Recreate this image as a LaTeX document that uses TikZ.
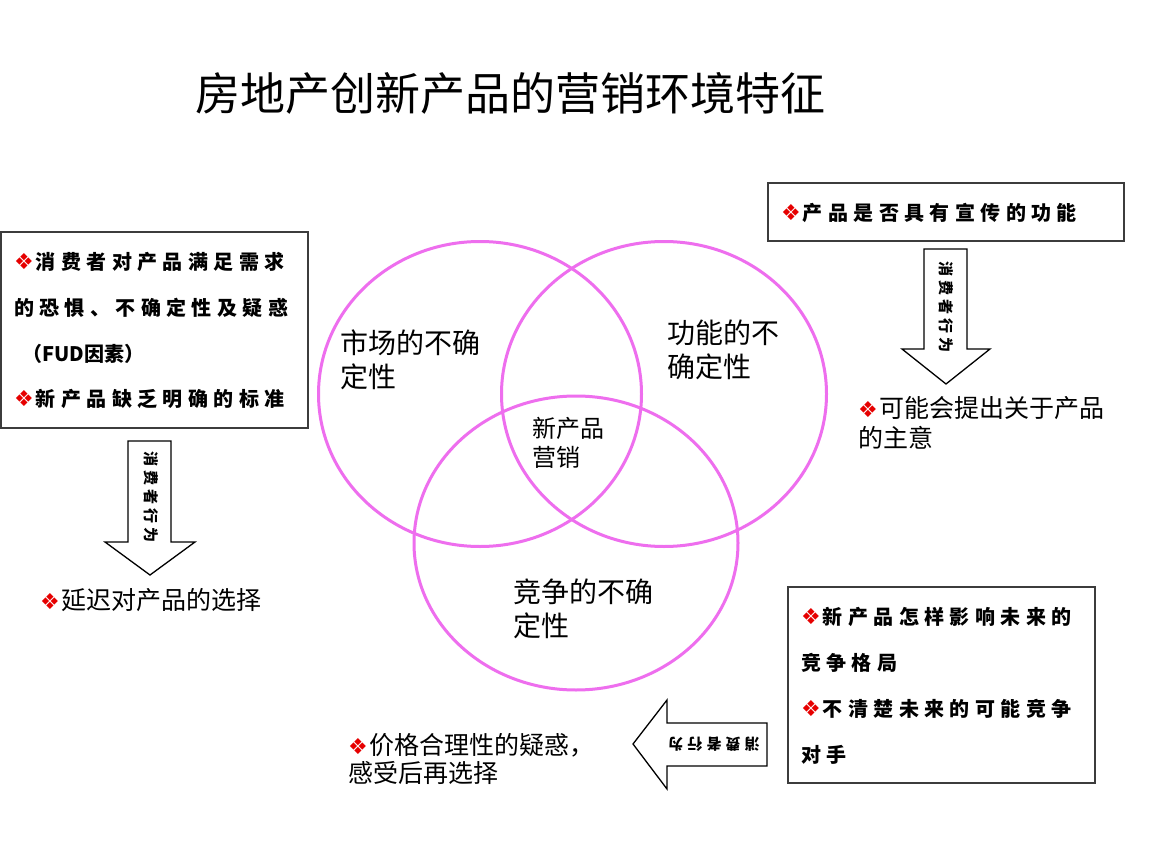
\documentclass[tikz,border=0pt]{standalone}
\usepackage{fontspec}
\setmainfont{Noto Sans CJK SC}
\newfontfamily\dv{DejaVu Sans}
\newfontfamily\cjk{Noto Sans CJK SC}
\newfontfamily\cjksp[LetterSpace=27]{Noto Sans CJK SC}
\usetikzlibrary{shapes.geometric}
\definecolor{venn}{RGB}{238,110,238}
\definecolor{bullred}{RGB}{230,0,0}
\definecolor{boxline}{RGB}{60,60,60}
\newcommand{\bul}{{\dv\mdseries\color{bullred}\fontsize{22}{22}\selectfont ❖}\hspace{2pt}}
\tikzset{
  venncircle/.style={ellipse, draw=venn, line width=3pt, inner sep=0pt},
  infobox/.style={draw=boxline, line width=2pt, fill=white, inner sep=0pt},
  boxtext/.style={anchor=west, inner sep=0pt, font=\cjksp\bfseries\fontsize{20}{20}\selectfont},
  plaintext/.style={anchor=west, inner sep=0pt, font=\cjk\fontsize{25}{25}\selectfont},
  circtext/.style={anchor=west, inner sep=0pt, font=\cjk\fontsize{28}{28}\selectfont},
  arrowshape/.style={draw=black, line width=1.3pt, fill=white},
  arrowtext/.style={inner sep=0pt, font=\cjksp\bfseries\fontsize{15}{15}\selectfont},
}
\begin{document}
\begin{tikzpicture}[x=1pt,y=-1pt]
\useasboundingbox[fill=white] (0,0) rectangle (1152,864);

% title
\node[anchor=west, inner sep=0pt, font=\cjk\fontsize{45}{45}\selectfont] (title) at (195,93) {房地产创新产品的营销环境特征};

% Venn circles
\node[venncircle, minimum width=323pt, minimum height=305pt] (c1) at (480,394) {};
\node[venncircle, minimum width=325pt, minimum height=305pt] (c2) at (664,394) {};
\node[venncircle, minimum width=324pt, minimum height=294pt] (c3) at (576,543) {};

\node[circtext] (t1a) at (340,343) {市场的不确};
\node[circtext] (t1b) at (340,377) {定性};
\node[circtext] (t2a) at (667,333) {功能的不};
\node[circtext] (t2b) at (667,367) {确定性};
\node[anchor=west, inner sep=0pt, font=\cjk\fontsize{24}{24}\selectfont] (t0a) at (532,428) {新产品};
\node[anchor=west, inner sep=0pt, font=\cjk\fontsize{24}{24}\selectfont] (t0b) at (532,457) {营销};
\node[circtext] (t3a) at (513,592) {竞争的不确};
\node[circtext] (t3b) at (513,626) {定性};

% left box
\node[infobox, minimum width=307pt, minimum height=196pt] (lbox) at (154,329.5) {};
\node[boxtext] (l1) at (14,262) {\bul 消费者对产品满足需求};
\node[boxtext] (l2) at (14,308) {的恐惧、不确定性及疑惑};
\node[boxtext, font=\cjk\bfseries\itshape\fontsize{20}{20}\selectfont] (l3) at (22,354) {（FUD因素）};
\node[boxtext] (l4) at (14,399) {\bul 新产品缺乏明确的标准};

% left down arrow
\draw[arrowshape] (128,441) -- (171,441) -- (171,542) -- (195,542) -- (150,575) -- (105,542) -- (128,542) -- cycle;
\node[arrowtext, rotate=-90] (lat) at (151,497) {消费者行为};
\node[plaintext] (l5) at (40,600) {\bul 延迟对产品的选择};

% top right box
\node[infobox, minimum width=356pt, minimum height=58pt] (rbox) at (946,212) {};
\node[boxtext] (r1) at (781,213) {\bul 产品是否具有宣传的功能};

% right down arrow
\draw[arrowshape] (924,249) -- (967,249) -- (967,349) -- (990,349) -- (946,384) -- (902,349) -- (924,349) -- cycle;
\node[arrowtext, rotate=-90] (rat) at (946,307) {消费者行为};
\node[plaintext] (r2) at (858,408) {\bul 可能会提出关于产品};
\node[plaintext] (r3) at (858,438) {的主意};

% bottom right box
\node[infobox, minimum width=307pt, minimum height=196pt] (bbox) at (941.5,685) {};
\node[boxtext] (b1) at (801,617) {\bul 新产品怎样影响未来的};
\node[boxtext] (b2) at (801,663) {竞争格局};
\node[boxtext] (b3) at (801,709) {\bul 不清楚未来的可能竞争};
\node[boxtext] (b4) at (801,755) {对手};

% left arrow
\draw[arrowshape] (767,723) -- (667,723) -- (667,700) -- (633,744) -- (667,789) -- (667,766) -- (767,766) -- cycle;
\node[arrowtext, rotate=180] (bat) at (714,744) {消费者行为};
\node[plaintext] (b5) at (348,745) {\bul 价格合理性的疑惑，};
\node[plaintext] (b6) at (348,773) {感受后再选择};
\end{tikzpicture}
\end{document}
